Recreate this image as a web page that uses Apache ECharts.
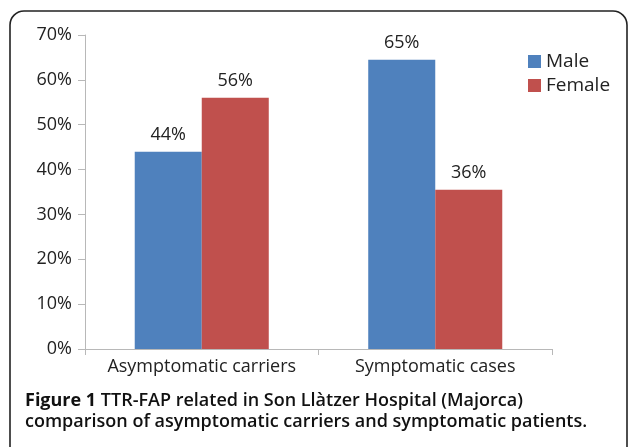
<!DOCTYPE html>
<html><head><meta charset="utf-8">
<script src="https://cdn.jsdelivr.net/npm/echarts@6/dist/echarts.min.js"></script>
<style>html,body{margin:0;padding:0;background:#fff}#c{width:629px;height:447px}</style>
</head><body><div id="c"></div>
<script>
const categories = ['Asymptomatic carriers', 'Symptomatic cases'];
const maleValues = [44, 64.5];
const femaleValues = [56, 35.5];
const seriesNames = ['Male', 'Female'];
const yTicks = [0, 10, 20, 30, 40, 50, 60, 70];
const captionBold = 'Figure 1';
const captionLine1 = ' TTR-FAP related in Son Llàtzer Hospital (Majorca)';
const captionLine2 = 'comparison of asymptomatic carriers and symptomatic patients.';

const chart = echarts.init(document.getElementById('c'), null, {renderer: 'canvas'});
const font = 'Open Sans, sans-serif';
const lbl = {show: true, position: 'top', distance: 8, color: '#222', fontSize: 18, fontFamily: font,
  formatter: p => Math.round(p.value) + '%'};
chart.setOption({
  animation: false,
  backgroundColor: '#fff',
  grid: {left: 85, right: 77, top: 35, bottom: 98, containLabel: false},
  legend: {
    orient: 'vertical', left: 523, top: 47, itemWidth: 13, itemHeight: 13, itemGap: 5,
    icon: 'rect', textStyle: {fontSize: 19, color: '#222', fontFamily: font},
    data: seriesNames
  },
  xAxis: {
    type: 'category', data: categories,
    axisLine: {lineStyle: {color: '#b8b8b8', width: 1}},
    axisTick: {show: true, length: 6, interval: 0, lineStyle: {color: '#b8b8b8'}},
    axisLabel: {color: '#222', fontSize: 18, fontFamily: font, margin: 9, interval: 0, hideOverlap: false}
  },
  yAxis: {
    type: 'value', min: yTicks[0], max: yTicks[yTicks.length - 1], interval: 10,
    axisLine: {show: true, lineStyle: {color: '#b8b8b8', width: 1}},
    axisTick: {show: true, length: 7, lineStyle: {color: '#b8b8b8'}},
    splitLine: {show: false},
    axisLabel: {color: '#222', fontSize: 18, fontFamily: font, margin: 13, formatter: '{value}%'}
  },
  series: [
    {name: seriesNames[0], type: 'bar', data: maleValues, barGap: '0%', barCategoryGap: '42.6%',
     itemStyle: {color: '#4f81bd'}, label: lbl},
    {name: seriesNames[1], type: 'bar', data: femaleValues, barGap: '0%', barCategoryGap: '42.6%',
     itemStyle: {color: '#c0504d'}, label: lbl}
  ],
  graphic: [
    {type: 'rect', shape: {x: 10, y: 11, width: 617, height: 470, r: 14}, silent: true, z: -1,
     style: {fill: 'none', stroke: '#222', lineWidth: 1.6}},
    {type: 'text', left: 25, top: 392, style: {
      text: '{b|' + captionBold + '}{n|' + captionLine1 + '}\n{n|' + captionLine2 + '}',
      rich: {
        b: {fontFamily: font, fontWeight: 'bold', fontSize: 18, fill: '#111', lineHeight: 21},
        n: {fontFamily: font, fontWeight: 600, fontSize: 18, fill: '#111', lineHeight: 21}
      }
    }}
  ]
});
</script></body></html>
